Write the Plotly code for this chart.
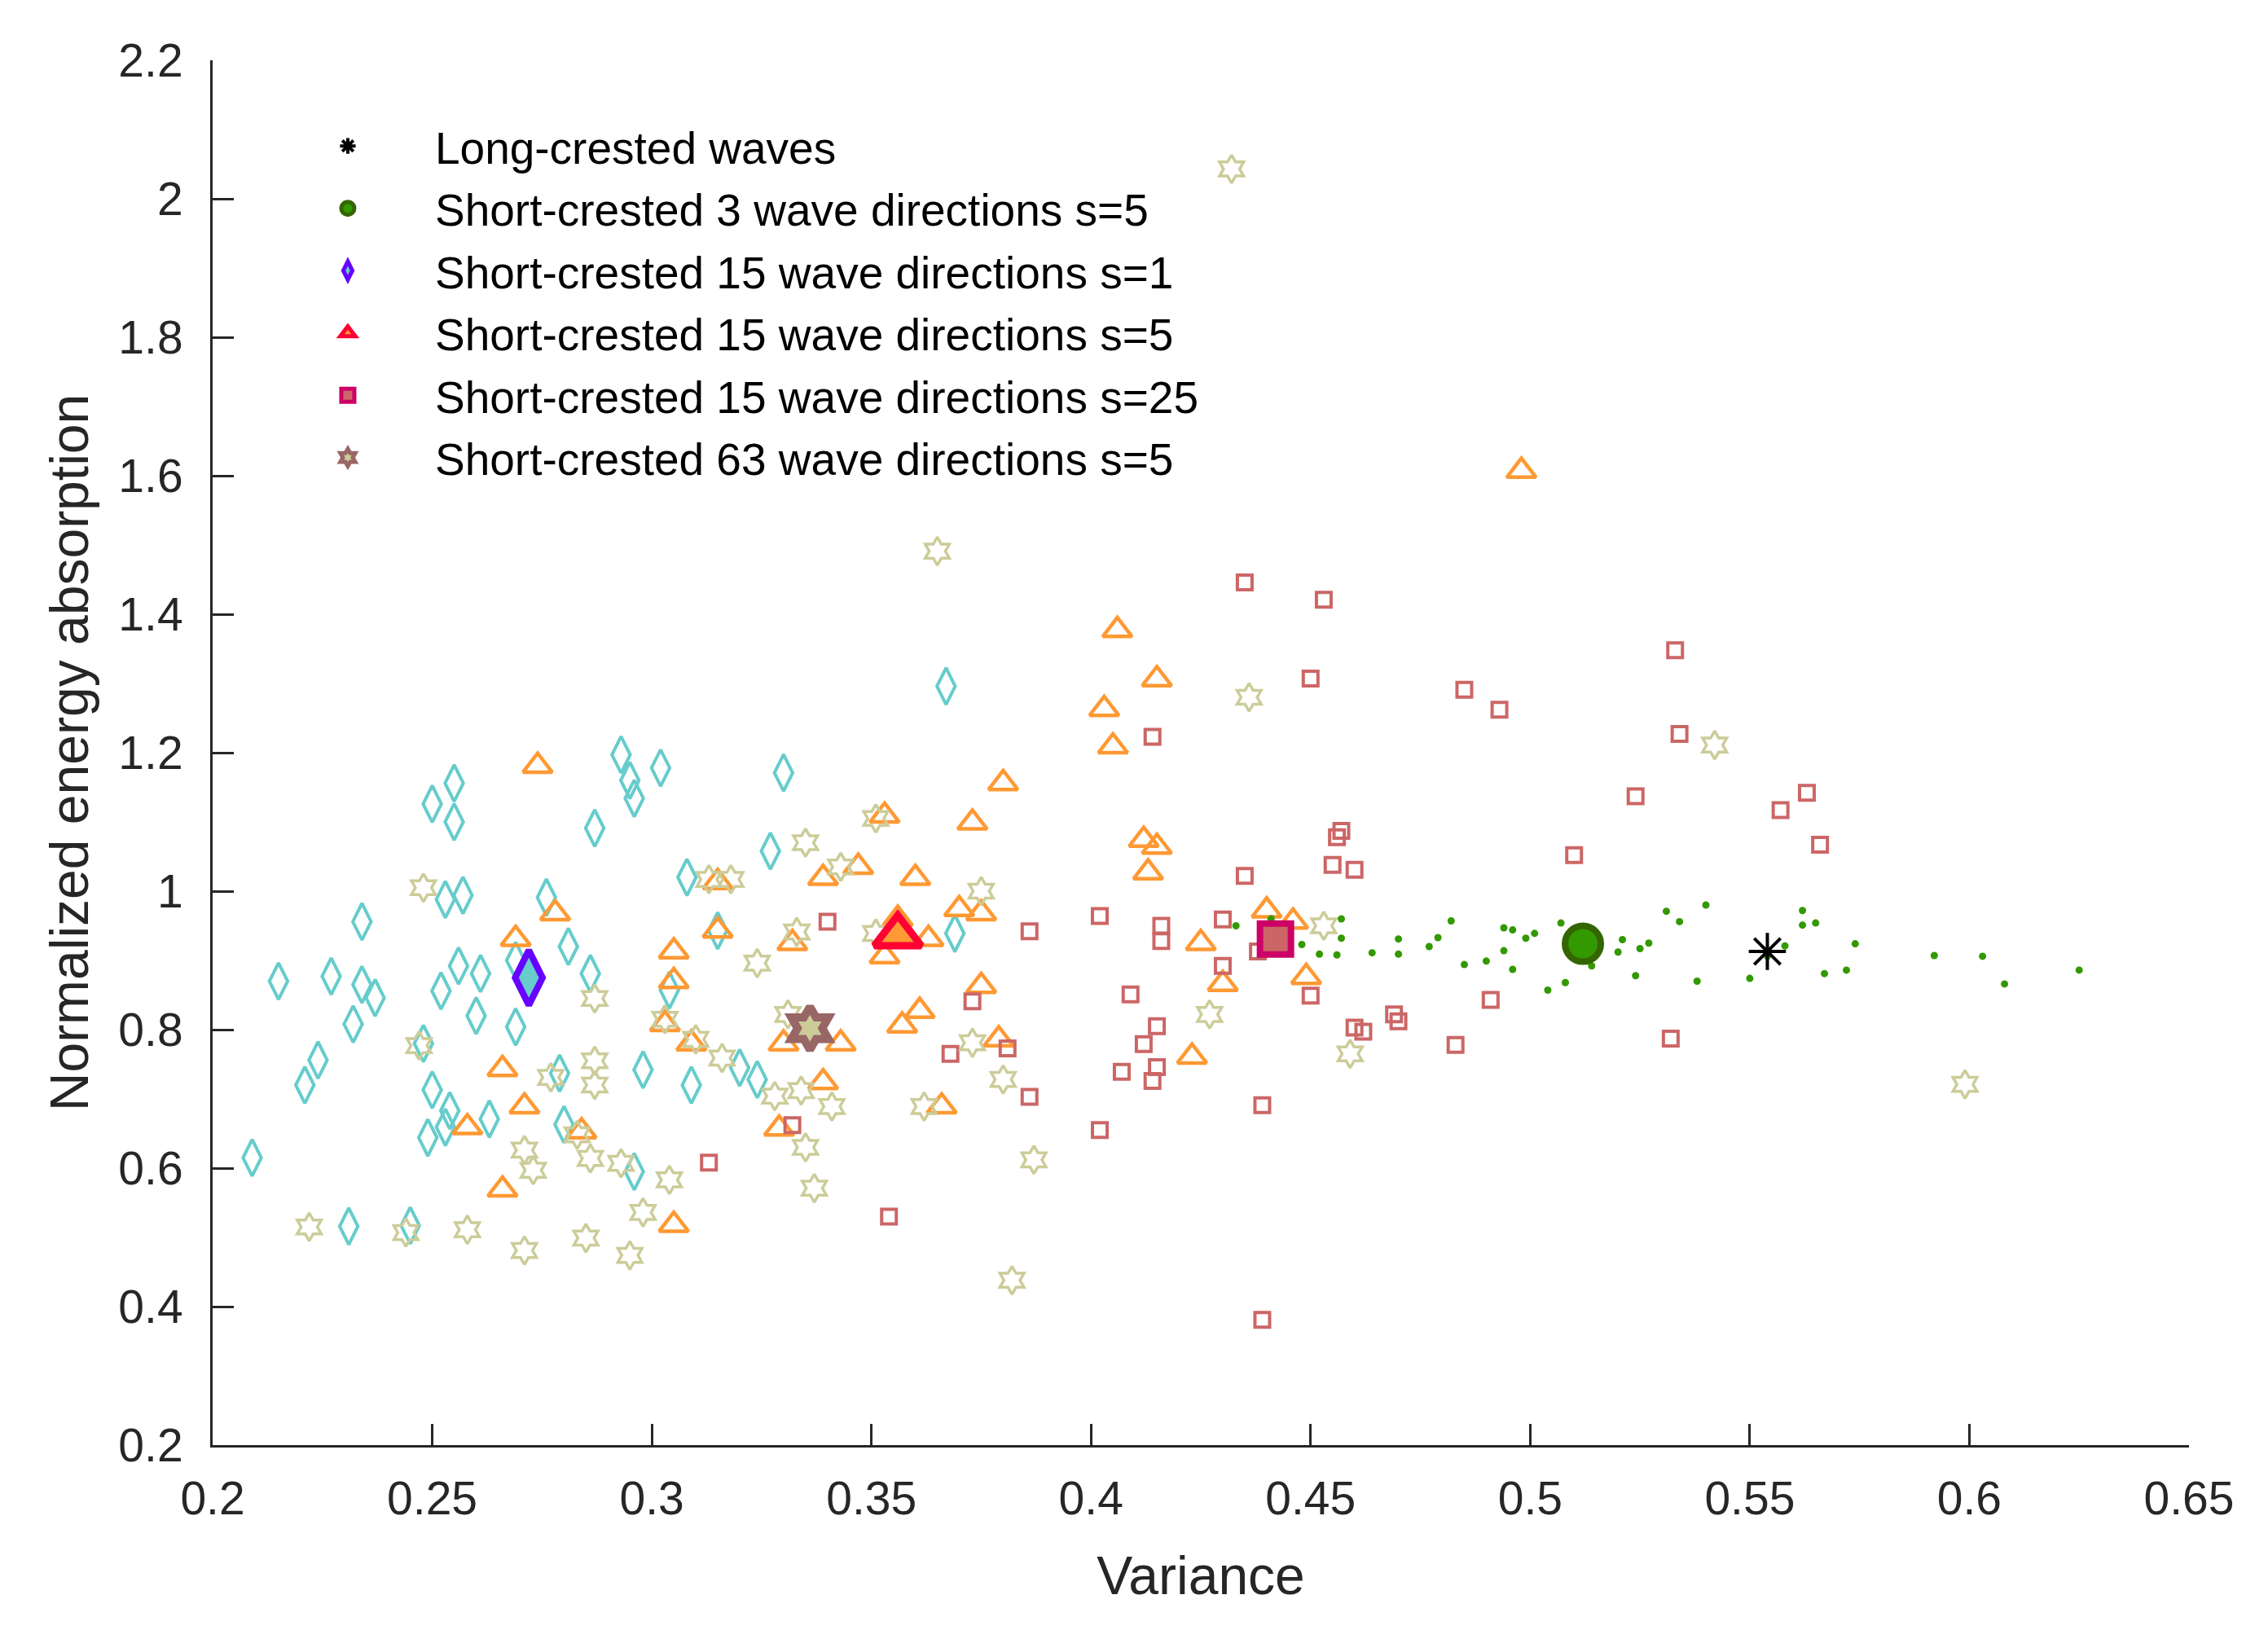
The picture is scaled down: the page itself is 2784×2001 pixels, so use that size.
import plotly.graph_objects as go

# 15 wave directions, s=1 (cyan diamonds)
dir15_s1_x = [0.255, 0.250, 0.255, 0.293, 0.295, 0.296, 0.302, 0.287, 0.234, 0.253, 0.257, 0.276, 0.308,
              0.281, 0.215, 0.227, 0.234, 0.237, 0.256, 0.261, 0.252, 0.286, 0.269, 0.260, 0.232, 0.304,
              0.248, 0.224, 0.221, 0.250, 0.254, 0.253, 0.249, 0.263, 0.279, 0.280, 0.298, 0.309, 0.296,
              0.209, 0.231, 0.245, 0.269, 0.330, 0.327, 0.315, 0.369, 0.320, 0.324, 0.367]
dir15_s1_y = [1.156, 1.126, 1.100, 1.197, 1.160, 1.134, 1.178, 1.091, 0.956, 0.988, 0.994, 0.991, 1.020,
              0.920, 0.870, 0.877, 0.865, 0.846, 0.892, 0.881, 0.856, 0.881, 0.900, 0.820, 0.808, 0.857,
              0.780, 0.756, 0.720, 0.713, 0.683, 0.659, 0.644, 0.671, 0.737, 0.663, 0.742, 0.720, 0.595,
              0.615, 0.516, 0.517, 0.804, 1.171, 1.058, 0.943, 0.939, 0.745, 0.728, 1.296]

# 15 wave directions, s=5 (orange triangles)
dir15_s5_x = [0.274, 0.278, 0.269, 0.305, 0.305, 0.303, 0.309, 0.266, 0.271, 0.258, 0.284, 0.266, 0.305,
              0.405, 0.380, 0.353, 0.373, 0.412, 0.415, 0.413, 0.347, 0.339, 0.360, 0.315, 0.356, 0.370,
              0.375, 0.363, 0.425, 0.315, 0.332, 0.353, 0.375, 0.361, 0.357, 0.330, 0.343, 0.379, 0.423,
              0.339, 0.366, 0.329, 0.440, 0.446, 0.430, 0.449, 0.406, 0.415, 0.403, 0.498]
dir15_s5_y = [1.181, 0.968, 0.931, 0.913, 0.870, 0.808, 0.780, 0.743, 0.689, 0.659, 0.653, 0.569, 0.518,
              1.209, 1.156, 1.109, 1.099, 1.074, 1.064, 1.027, 1.035, 1.019, 1.019, 1.013, 0.960, 0.974,
              0.968, 0.931, 0.925, 0.943, 0.925, 0.906, 0.863, 0.827, 0.806, 0.780, 0.780, 0.786, 0.761,
              0.724, 0.689, 0.657, 0.972, 0.956, 0.866, 0.876, 1.377, 1.306, 1.263, 1.607]

# 15 wave directions, s=25 (red squares)
dir15_s25_x = [0.414, 0.340, 0.386, 0.402, 0.416, 0.416, 0.373, 0.409, 0.415, 0.412, 0.407, 0.415, 0.414,
               0.368, 0.381, 0.386, 0.332, 0.402, 0.313, 0.354, 0.435, 0.453, 0.450, 0.485, 0.493, 0.533,
               0.534, 0.524, 0.457, 0.456, 0.510, 0.455, 0.460, 0.435, 0.430, 0.438, 0.430, 0.450, 0.469,
               0.470, 0.460, 0.462, 0.491, 0.483, 0.532, 0.439, 0.439, 0.563, 0.557, 0.566]
dir15_s25_y = [1.223, 0.956, 0.942, 0.964, 0.950, 0.928, 0.841, 0.851, 0.805, 0.779, 0.739, 0.746, 0.726,
               0.765, 0.773, 0.703, 0.662, 0.655, 0.608, 0.530, 1.446, 1.421, 1.307, 1.291, 1.262, 1.348,
               1.227, 1.137, 1.087, 1.078, 1.052, 1.038, 1.031, 1.022, 0.959, 0.913, 0.892, 0.849, 0.822,
               0.812, 0.803, 0.797, 0.843, 0.778, 0.787, 0.691, 0.381, 1.142, 1.117, 1.067]

# 63 wave directions, s=5 (khaki hexagrams)
dir63_s5_x = [0.248, 0.287, 0.303, 0.310, 0.247, 0.277, 0.287, 0.287, 0.283, 0.271, 0.273, 0.286, 0.293,
              0.304, 0.298, 0.295, 0.285, 0.271, 0.258, 0.244, 0.222, 0.351, 0.335, 0.343, 0.313, 0.318,
              0.375, 0.333, 0.351, 0.324, 0.331, 0.316, 0.328, 0.334, 0.341, 0.362, 0.373, 0.380, 0.427,
              0.335, 0.337, 0.387, 0.382, 0.436, 0.453, 0.459, 0.542, 0.599, 0.432, 0.365]
dir63_s5_y = [1.005, 0.845, 0.815, 0.786, 0.777, 0.731, 0.755, 0.720, 0.648, 0.626, 0.597, 0.614, 0.607,
              0.583, 0.536, 0.474, 0.499, 0.481, 0.511, 0.507, 0.515, 1.105, 1.070, 1.035, 1.017, 1.017,
              1.000, 0.941, 0.939, 0.896, 0.822, 0.759, 0.704, 0.712, 0.689, 0.689, 0.781, 0.728, 0.822,
              0.630, 0.571, 0.612, 0.438, 1.280, 0.950, 0.765, 1.211, 0.721, 2.043, 1.491]

# 3 wave directions, s=5 (green dots)
dir3_s5_x = [0.433, 0.441, 0.457, 0.457, 0.482, 0.470, 0.479, 0.494, 0.496, 0.499, 0.501, 0.507, 0.521,
             0.527, 0.531, 0.534, 0.540, 0.448, 0.452, 0.456, 0.464, 0.470, 0.477, 0.485, 0.490, 0.494,
             0.496, 0.504, 0.508, 0.514, 0.520, 0.524, 0.525, 0.538, 0.550, 0.554, 0.558, 0.562, 0.562,
             0.565, 0.574, 0.567, 0.572, 0.592, 0.603, 0.608, 0.625]
dir3_s5_y = [0.950, 0.960, 0.960, 0.932, 0.957, 0.931, 0.933, 0.947, 0.944, 0.932, 0.939, 0.954, 0.930,
             0.925, 0.971, 0.956, 0.980, 0.923, 0.909, 0.908, 0.911, 0.909, 0.920, 0.894, 0.899, 0.914,
             0.887, 0.857, 0.868, 0.892, 0.912, 0.878, 0.917, 0.870, 0.874, 0.906, 0.921, 0.972, 0.951,
             0.954, 0.924, 0.881, 0.886, 0.907, 0.906, 0.866, 0.886]

# mean values (legend markers)
mean_names = ["Long-crested waves",
              "Short-crested 3 wave directions s=5",
              "Short-crested 15 wave directions s=1",
              "Short-crested 15 wave directions s=5",
              "Short-crested 15 wave directions s=25",
              "Short-crested 63 wave directions s=5"]
mean_x = [0.554, 0.512, 0.272, 0.356, 0.442, 0.336]
mean_y = [0.913, 0.924, 0.875, 0.936, 0.931, 0.802]

x_ticks = [0.2, 0.25, 0.3, 0.35, 0.4, 0.45, 0.5, 0.55, 0.6, 0.65]
x_labels = ["0.2", "0.25", "0.3", "0.35", "0.4", "0.45", "0.5", "0.55", "0.6", "0.65"]
y_ticks = [0.2, 0.4, 0.6, 0.8, 1.0, 1.2, 1.4, 1.6, 1.8, 2.0, 2.2]
y_labels = ["0.2", "0.4", "0.6", "0.8", "1", "1.2", "1.4", "1.6", "1.8", "2", "2.2"]

FONT = "Liberation Sans, Arial, Helvetica, sans-serif"
INK = "#262626"

fig = go.Figure()

# individual realisations
fig.add_trace(go.Scatter(x=dir15_s1_x, y=dir15_s1_y, mode="markers", showlegend=False,
                         marker=dict(symbol="diamond-tall-open", size=32, color="#66CCCC",
                                     line=dict(width=4, color="#66CCCC"))))
fig.add_trace(go.Scatter(x=dir15_s5_x, y=dir15_s5_y, mode="markers", showlegend=False,
                         marker=dict(symbol="triangle-up-open", size=31, color="#FF9933",
                                     line=dict(width=4.5, color="#FF9933"))))
fig.add_trace(go.Scatter(x=dir15_s25_x, y=dir15_s25_y, mode="markers", showlegend=False,
                         marker=dict(symbol="square-open", size=18, color="#CC6666",
                                     line=dict(width=4, color="#CC6666"))))
fig.add_trace(go.Scatter(x=dir63_s5_x, y=dir63_s5_y, mode="markers", showlegend=False,
                         marker=dict(symbol="hexagram-open", size=26, color="#CCCC99",
                                     line=dict(width=3.5, color="#CCCC99"))))
fig.add_trace(go.Scatter(x=dir3_s5_x, y=dir3_s5_y, mode="markers", showlegend=False,
                         marker=dict(symbol="circle", size=9, color="#339900", line=dict(width=0))))

# means, these also make the legend
mean_style = [
    dict(symbol="asterisk-open", size=38, color="black", line=dict(width=4, color="black")),
    dict(symbol="circle", size=44, color="#339900", line=dict(width=8, color="#336600")),
    dict(symbol="diamond-tall", size=48, color="#66CCCC", line=dict(width=8, color="#6600FF")),
    dict(symbol="triangle-up", size=50, color="#FF9933", line=dict(width=9, color="#FF0033")),
    dict(symbol="square", size=38, color="#CC6666", line=dict(width=8, color="#CC0066")),
    dict(symbol="hexagram", size=40, color="#CCCC99", line=dict(width=10, color="#996666")),
]
for i in range(len(mean_names)):
    fig.add_trace(go.Scatter(x=[mean_x[i]], y=[mean_y[i]], mode="markers", name=mean_names[i],
                             legendgroup="g%d" % i, marker=mean_style[i]))

fig.update_layout(
    width=2784, height=2001,
    margin=dict(l=253, r=105, t=66, b=235),
    paper_bgcolor="white", plot_bgcolor="white",
    font=dict(family=FONT, color=INK, size=57),
    showlegend=True,
    legend=dict(x=0.0243, y=0.963, xanchor="left", yanchor="top", bgcolor="rgba(0,0,0,0)",
                font=dict(size=55, color="black", family=FONT), itemwidth=204,
                traceorder="grouped", tracegroupgap=2),
)
fig.update_xaxes(range=[0.2, 0.65], tickvals=x_ticks, ticktext=x_labels,
                 showline=True, linecolor=INK, linewidth=3, mirror=False,
                 ticks="inside", ticklen=26, tickwidth=2.5, tickcolor=INK,
                 showgrid=False, zeroline=False, automargin=False,
                 tickfont=dict(size=57, color=INK), ticklabelstandoff=14,
                 title=dict(text="Variance", font=dict(size=66, color=INK), standoff=41))
fig.update_yaxes(range=[0.2, 2.2], tickvals=y_ticks, ticktext=y_labels,
                 showline=True, linecolor=INK, linewidth=3, mirror=False,
                 ticks="inside", ticklen=26, tickwidth=2.5, tickcolor=INK,
                 showgrid=False, zeroline=False, automargin=False,
                 tickfont=dict(size=57, color=INK), ticklabelstandoff=22,
                 title=dict(text="Normalized energy absorption", font=dict(size=66, color=INK), standoff=16))

fig.write_html("out.html")
